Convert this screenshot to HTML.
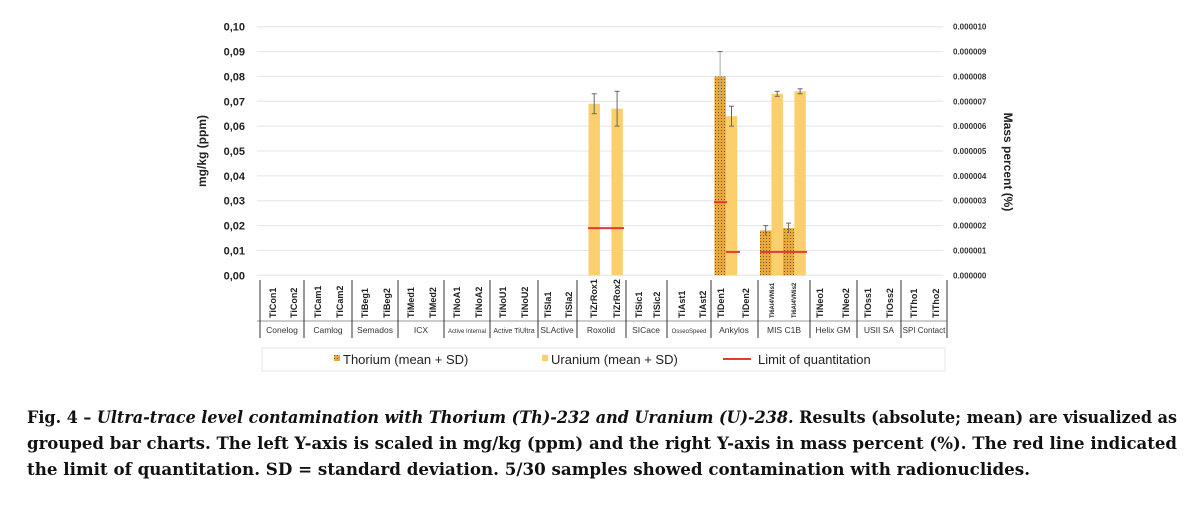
<!DOCTYPE html>
<html><head><meta charset="utf-8"><style>
html,body{margin:0;padding:0;background:#fff;width:1196px;height:512px;overflow:hidden}
svg{display:block}
.t{font-family:"Liberation Sans",Arial,sans-serif}
</style></head><body>
<svg width="1196" height="512" viewBox="0 0 1196 512" xmlns="http://www.w3.org/2000/svg">
<defs>
<pattern id="dots" width="3" height="3" patternUnits="userSpaceOnUse">
<rect width="3" height="3" fill="#e9a93a"/><rect x="1" y="1" width="1" height="1" fill="#7a5a20"/>
</pattern>
</defs>
<g stroke="#e4e4e4" stroke-width="1">
<line x1="257" x2="943" y1="26.7" y2="26.7"/><line x1="257" x2="943" y1="51.6" y2="51.6"/>
<line x1="257" x2="943" y1="76.4" y2="76.4"/><line x1="257" x2="943" y1="101.3" y2="101.3"/>
<line x1="257" x2="943" y1="126.1" y2="126.1"/><line x1="257" x2="943" y1="151" y2="151"/>
<line x1="257" x2="943" y1="175.9" y2="175.9"/><line x1="257" x2="943" y1="200.7" y2="200.7"/>
<line x1="257" x2="943" y1="225.6" y2="225.6"/><line x1="257" x2="943" y1="250.4" y2="250.4"/>
<line x1="257" x2="943" y1="275.3" y2="275.3"/>
</g>
<g class="t" font-size="11" font-weight="bold" fill="#222" text-anchor="end">
<text x="245" y="30.7">0,10</text><text x="245" y="55.6">0,09</text><text x="245" y="80.4">0,08</text>
<text x="245" y="105.3">0,07</text><text x="245" y="130.1">0,06</text><text x="245" y="155">0,05</text>
<text x="245" y="179.9">0,04</text><text x="245" y="204.7">0,03</text><text x="245" y="229.6">0,02</text>
<text x="245" y="254.4">0,01</text><text x="245" y="279.3">0,00</text>
</g>
<g class="t" font-size="8" font-weight="bold" fill="#333">
<text x="953" y="29.7">0.000010</text><text x="953" y="54.6">0.000009</text><text x="953" y="79.4">0.000008</text>
<text x="953" y="104.3">0.000007</text><text x="953" y="129.1">0.000006</text><text x="953" y="154">0.000005</text>
<text x="953" y="178.9">0.000004</text><text x="953" y="203.7">0.000003</text><text x="953" y="228.6">0.000002</text>
<text x="953" y="253.4">0.000001</text><text x="953" y="278.3">0.000000</text>
</g>
<text class="t" font-size="12" font-weight="bold" fill="#222" transform="translate(206,151) rotate(-90)" text-anchor="middle">mg/kg (ppm)</text>
<text class="t" font-size="12" font-weight="bold" fill="#222" transform="translate(1004,162) rotate(90)" text-anchor="middle">Mass percent (%)</text>
<g fill="#fbcf6b">
<rect x="588.5" y="103.8" width="11.4" height="171.5"/>
<rect x="611.4" y="108.7" width="11.4" height="166.6"/>
<rect x="725.8" y="116.2" width="11.4" height="159.1"/>
<rect x="771.5" y="93.8" width="11.4" height="181.5"/>
<rect x="794.4" y="91.3" width="11.4" height="184"/>
</g>
<g fill="url(#dots)">
<rect x="714.4" y="76.4" width="11.4" height="198.9"/>
<rect x="760" y="230.5" width="11.4" height="44.8"/>
<rect x="782.9" y="228.1" width="11.4" height="47.2"/>
</g>
<g stroke="#666" stroke-width="1">
<line x1="594.2" x2="594.2" y1="93.8" y2="113.7"/><line x1="591.7" x2="596.7" y1="93.8" y2="93.8"/><line x1="591.7" x2="596.7" y1="113.7" y2="113.7"/>
<line x1="617.1" x2="617.1" y1="91.3" y2="126.1"/><line x1="614.6" x2="619.6" y1="91.3" y2="91.3"/><line x1="614.6" x2="619.6" y1="126.1" y2="126.1"/>
<line x1="720.1" x2="720.1" y1="51.6" y2="101.3" stroke="#aaa"/><line x1="717.6" x2="722.6" y1="51.6" y2="51.6"/>
<line x1="731.5" x2="731.5" y1="106.2" y2="126.1"/><line x1="729" x2="734" y1="106.2" y2="106.2"/><line x1="729" x2="734" y1="126.1" y2="126.1"/>
<line x1="765.7" x2="765.7" y1="225.6" y2="235.5"/><line x1="763.2" x2="768.2" y1="225.6" y2="225.6"/>
<line x1="777.2" x2="777.2" y1="91.3" y2="96.3"/><line x1="774.7" x2="779.7" y1="91.3" y2="91.3"/><line x1="774.7" x2="779.7" y1="96.3" y2="96.3"/>
<line x1="788.6" x2="788.6" y1="223.1" y2="233"/><line x1="786.1" x2="791.1" y1="223.1" y2="223.1"/>
<line x1="800.1" x2="800.1" y1="88.8" y2="93.8"/><line x1="797.6" x2="802.6" y1="88.8" y2="88.8"/><line x1="797.6" x2="802.6" y1="93.8" y2="93.8"/>
</g>
<g stroke="#e53935" stroke-width="2">
<line x1="588" x2="624" y1="228.1" y2="228.1"/>
<line x1="714" x2="727" y1="202.2" y2="202.2"/>
<line x1="726" x2="740" y1="251.9" y2="251.9"/>
<line x1="760" x2="807" y1="251.9" y2="251.9"/>
</g>
<g stroke="#333" stroke-width="1">
<line x1="257" x2="947" y1="321" y2="321" stroke="#999"/>
<line x1="260" x2="260" y1="280" y2="338"/><line x1="304" x2="304" y1="280" y2="338"/>
<line x1="352" x2="352" y1="280" y2="338"/><line x1="398" x2="398" y1="280" y2="338"/>
<line x1="444" x2="444" y1="280" y2="338"/><line x1="490" x2="490" y1="280" y2="338"/>
<line x1="538" x2="538" y1="280" y2="338"/><line x1="577" x2="577" y1="280" y2="338"/>
<line x1="626" x2="626" y1="280" y2="338"/><line x1="667" x2="667" y1="280" y2="338"/>
<line x1="711" x2="711" y1="280" y2="338"/><line x1="758" x2="758" y1="280" y2="338"/>
<line x1="810" x2="810" y1="280" y2="338"/><line x1="857" x2="857" y1="280" y2="338"/>
<line x1="901" x2="901" y1="280" y2="338"/><line x1="947" x2="947" y1="280" y2="338"/>
</g>
<g class="t" font-size="9" font-weight="bold" fill="#222">
<text transform="translate(276,318) rotate(-90)">TiCon1</text><text transform="translate(297,318) rotate(-90)">TiCon2</text>
<text transform="translate(321,318) rotate(-90)">TiCam1</text><text transform="translate(343,318) rotate(-90)">TiCam2</text>
<text transform="translate(368,318) rotate(-90)">TiBeg1</text><text transform="translate(390,318) rotate(-90)">TiBeg2</text>
<text transform="translate(414,318) rotate(-90)">TiMed1</text><text transform="translate(436,318) rotate(-90)">TiMed2</text>
<text transform="translate(460,318) rotate(-90)">TiNoA1</text><text transform="translate(482,318) rotate(-90)">TiNoA2</text>
<text transform="translate(506,318) rotate(-90)">TiNoU1</text><text transform="translate(528,318) rotate(-90)">TiNoU2</text>
<text transform="translate(551,318) rotate(-90)">TiSla1</text><text transform="translate(572,318) rotate(-90)">TiSla2</text>
<text transform="translate(597,318) rotate(-90)">TiZrRox1</text><text transform="translate(620,318) rotate(-90)">TiZrRox2</text>
<text transform="translate(642,318) rotate(-90)">TiSic1</text><text transform="translate(660,318) rotate(-90)">TiSic2</text>
<text transform="translate(685,318) rotate(-90)">TiAst1</text><text transform="translate(706,318) rotate(-90)">TiAst2</text>
<text transform="translate(724,318) rotate(-90)">TiDen1</text><text transform="translate(749,318) rotate(-90)">TiDen2</text>
<text transform="translate(823,318) rotate(-90)">TiNeo1</text><text transform="translate(849,318) rotate(-90)">TiNeo2</text>
<text transform="translate(871,318) rotate(-90)">TiOss1</text><text transform="translate(893,318) rotate(-90)">TiOss2</text>
<text transform="translate(917,318) rotate(-90)">TiTho1</text><text transform="translate(939,318) rotate(-90)">TiTho2</text>
</g>
<g class="t" font-size="6" font-weight="bold" fill="#222">
<text transform="translate(774,318) rotate(-90)">Ti6Al4VMis1</text><text transform="translate(796,318) rotate(-90)">Ti6Al4VMis2</text>
</g>
<g class="t" font-size="8.5" fill="#333" text-anchor="middle">
<text x="282" y="333">Conelog</text><text x="328" y="333">Camlog</text><text x="375" y="333">Semados</text>
<text x="421" y="333">ICX</text><text x="467" y="333" font-size="6">Active Internal</text><text x="514" y="333" font-size="7">Active TiUltra</text>
<text x="557" y="333">SLActive</text><text x="601" y="333">Roxolid</text><text x="646" y="333">SICace</text>
<text x="689" y="333" font-size="6">OsseoSpeed</text><text x="734" y="333">Ankylos</text><text x="784" y="333">MIS C1B</text>
<text x="833" y="333">Helix GM</text><text x="879" y="333">USII SA</text><text x="924" y="333" font-size="8">SPI Contact</text>
</g>
<rect x="262" y="348" width="683" height="23" fill="#fff" stroke="#e6e6e6"/>
<rect x="334" y="355" width="6" height="6" fill="url(#dots)"/>
<text class="t" x="343" y="364" font-size="13" fill="#222">Thorium (mean + SD)</text>
<rect x="542" y="355" width="6" height="6" fill="#fbcf6b"/>
<text class="t" x="551" y="364" font-size="13" fill="#222">Uranium (mean + SD)</text>
<line x1="723" x2="751" y1="359" y2="359" stroke="#e53935" stroke-width="2"/>
<text class="t" x="758" y="364" font-size="13" fill="#222">Limit of quantitation</text>
<g font-family="'DejaVu Serif','Liberation Serif',serif" font-size="17" font-weight="bold" fill="#111">
<text x="27" y="423" textLength="1150" lengthAdjust="spacingAndGlyphs">Fig. 4 – <tspan font-style="italic">Ultra-trace level contamination with Thorium (Th)-232 and Uranium (U)-238.</tspan> Results (absolute; mean) are visualized as</text>
<text x="27" y="449" textLength="1150" lengthAdjust="spacingAndGlyphs">grouped bar charts. The left Y-axis is scaled in mg/kg (ppm) and the right Y-axis in mass percent (%). The red line indicated</text>
<text x="27" y="475" textLength="1003" lengthAdjust="spacingAndGlyphs">the limit of quantitation. SD = standard deviation. 5/30 samples showed contamination with radionuclides.</text>
</g>
</svg>
</body></html>
